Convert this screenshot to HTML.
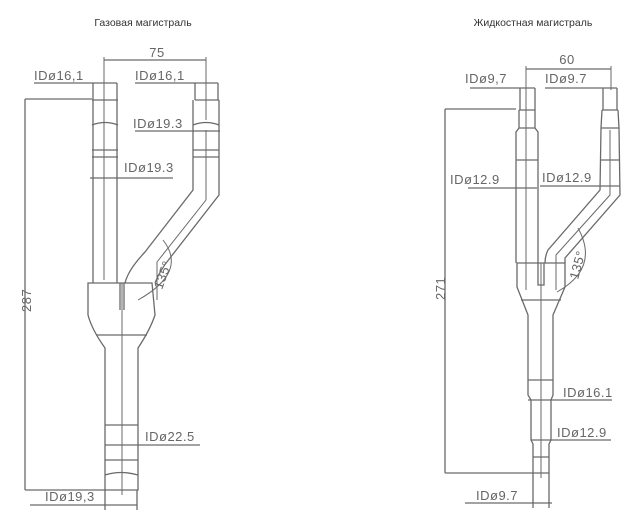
<!DOCTYPE html>
<html><head><meta charset="utf-8"><style>
html,body{margin:0;padding:0;background:#fff}
svg{display:block}
text{font-family:"Liberation Sans",sans-serif;fill:#666}
.t{font-size:13px;letter-spacing:0.5px}
.h{font-size:10.5px;fill:#333}
</style></head><body>
<svg width="637" height="528" viewBox="0 0 637 528" xmlns="http://www.w3.org/2000/svg" fill="none" stroke="#6a6a6a" stroke-width="1.3">
<text class="h" x="143" y="26" text-anchor="middle" stroke="none">Газовая магистраль</text>
<text class="h" x="533" y="26" text-anchor="middle" stroke="none">Жидкостная магистраль</text>

<!-- LEFT -->
<g>
<line x1="104" y1="60" x2="206" y2="60"/>
<text class="t" x="157" y="57" text-anchor="middle" stroke="none">75</text>
<line x1="104" y1="57" x2="104" y2="280" stroke-width="1"/>
<line x1="206" y1="57" x2="206" y2="120" stroke-width="1"/>
<text class="t" x="34" y="80" stroke="none">IDø16,1</text>
<line x1="34" y1="83" x2="117" y2="83"/>
<line x1="93" y1="83" x2="93" y2="100"/><line x1="117" y1="83" x2="117" y2="100"/>
<text class="t" x="135" y="80" stroke="none">IDø16,1</text>
<line x1="135" y1="83" x2="218" y2="83"/>
<line x1="195" y1="83" x2="195" y2="100"/><line x1="218" y1="83" x2="218" y2="100"/>
<path d="M93 100 L93 283 M117 100 L117 283 M92 100 L118 100"/>
<path d="M92 125 Q105 120 118 125 M92 150 L118 150 M92 157 L118 157"/>
<path d="M195 100 L219 100 M193 100 L193 190 L145 252 Q128 270 125 283 M219 100 L219 195 L170 258 Q160 270 155 283"/>
<path d="M193 125 Q206 120 219 125 M193 150 L219 150 M193 157 L219 157" />
<path d="M206 130 L206 200 L157 262 L157 300" stroke-width="1"/>
<text class="t" x="133" y="128" stroke="none">IDø19.3</text>
<line x1="135" y1="131" x2="220" y2="131"/>
<text class="t" x="124" y="172" stroke="none">IDø19.3</text>
<line x1="90" y1="178" x2="173" y2="178"/>
<path d="M88 283 L152 283 L155 315 Q150 330 138 348 L138 490 L105 490 L105 348 Q92 330 88 315 Z"/>
<path d="M96 335 L147 335 M120 283 L120 310 M124 283 L124 310 M105 425 L138 425 M105 460 L138 460 M105 475 Q121 470 138 475"/>
<line x1="122" y1="283" x2="122" y2="495" stroke-width="1"/>
<path d="M163 240 Q188 272 138 300" stroke-width="1"/>
<text class="t" x="0" y="0" stroke="none" transform="translate(162,290) rotate(-70)">135°</text>
<text class="t" x="145" y="441" stroke="none">IDø22.5</text>
<line x1="105" y1="445" x2="200" y2="445"/>
<line x1="25" y1="99" x2="25" y2="490"/>
<line x1="25" y1="99" x2="92" y2="99"/><line x1="25" y1="490" x2="105" y2="490"/>
<text class="t" x="0" y="0" stroke="none" transform="translate(31,312) rotate(-90)">287</text>
<text class="t" x="45" y="501" stroke="none">IDø19,3</text>
<line x1="30" y1="505" x2="137" y2="505"/>
<line x1="105" y1="490" x2="105" y2="510"/><line x1="137" y1="490" x2="137" y2="510"/>
</g>

<!-- RIGHT -->
<g>
<line x1="526" y1="69" x2="611" y2="69"/>
<text class="t" x="567" y="64" text-anchor="middle" stroke="none">60</text>
<line x1="526" y1="66" x2="526" y2="290" stroke-width="1"/>
<line x1="611" y1="66" x2="611" y2="90" stroke-width="1"/>
<text class="t" x="465" y="83" stroke="none">IDø9,7</text>
<line x1="470" y1="88" x2="535" y2="88"/>
<line x1="520" y1="88" x2="520" y2="110"/><line x1="535" y1="88" x2="535" y2="110"/>
<text class="t" x="545" y="83" stroke="none">IDø9.7</text>
<line x1="545" y1="88" x2="617" y2="88"/>
<line x1="603" y1="88" x2="603" y2="110"/><line x1="617" y1="88" x2="617" y2="110"/>
<path d="M519 110 L535 110 L535 128 L538 132 L538 263 M519 110 L519 128 L516 132 L516 263 M519 128 L535 128 M516 160 L538 160"/>
<path d="M602 110 L618 110 M602 110 L601 128 L600 190 L548 250 Q545 256 545 263 M618 110 L619 128 L620 195 L565 258 L565 263 M601 128 L619 128 M600 160 L620 160"/>
<path d="M610 130 L610 195 L556 255 L556 290" stroke-width="1"/>
<text class="t" x="450" y="184" stroke="none">IDø12.9</text>
<line x1="468" y1="188" x2="537" y2="188"/>
<text class="t" x="542" y="182" stroke="none">IDø12.9</text>
<line x1="540" y1="186" x2="620" y2="186"/>
<path d="M517 263 L565 263 L565 287 L553 315 L553 395 L551 400 L551 440 L549 444 L549 473 L533 473 L533 444 L531 440 L531 400 L528 395 L528 315 L517 287 Z"/>
<path d="M521 300 L561 300 M538 263 L538 285 L544 285 L544 263 M528 380 L553 380 M533 457 L549 457"/>
<line x1="541" y1="263" x2="541" y2="478" stroke-width="1"/>
<path d="M578 228 Q600 268 557 292" stroke-width="1"/>
<text class="t" x="0" y="0" stroke="none" transform="translate(578,280) rotate(-75)">135°</text>
<text class="t" x="563" y="397" stroke="none">IDø16.1</text>
<line x1="528" y1="400" x2="612" y2="400"/>
<text class="t" x="557" y="437" stroke="none">IDø12.9</text>
<line x1="531" y1="440" x2="611" y2="440"/>
<line x1="445" y1="109" x2="445" y2="473"/>
<line x1="445" y1="109" x2="516" y2="109"/><line x1="445" y1="473" x2="533" y2="473"/>
<text class="t" x="0" y="0" stroke="none" transform="translate(445,300) rotate(-90)">271</text>
<text class="t" x="476" y="500" stroke="none">IDø9.7</text>
<line x1="465" y1="503" x2="552" y2="503"/>
<line x1="533" y1="473" x2="533" y2="508"/><line x1="549" y1="473" x2="549" y2="508"/>
</g>
</svg>
</body></html>
